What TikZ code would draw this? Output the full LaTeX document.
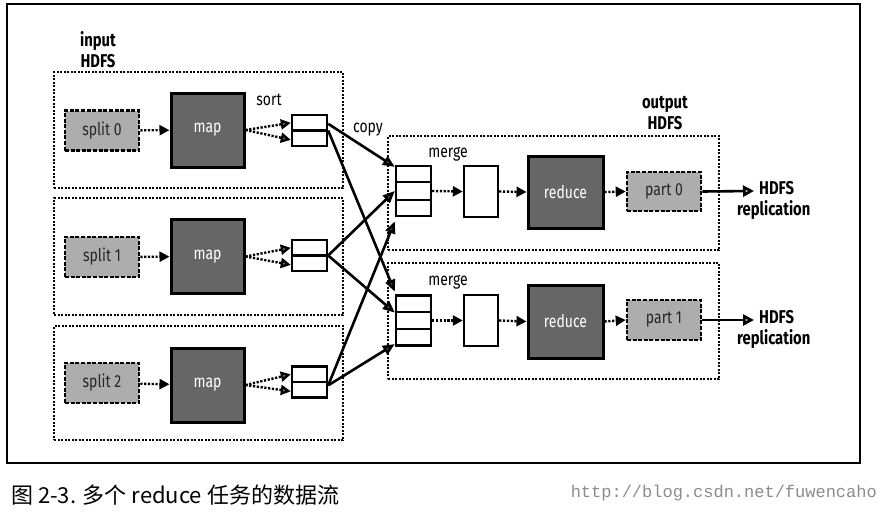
\documentclass[tikz,border=0pt]{standalone}
\usepackage{fontspec}
\setmainfont{Fira Sans}[FakeStretch=0.8]
\newfontfamily\cjk{Noto Sans CJK SC}
\newfontfamily\wmfont{Liberation Mono}
\usetikzlibrary{arrows.meta,calc}
\tikzset{
  grp/.style={draw, line width=1.4pt, dash pattern=on 2pt off 1.5pt, inner sep=0pt},
  splitbox/.style={draw, fill=black!32, line width=2.6pt, dash pattern=on 4pt off 1.6pt,
     minimum width=74pt, minimum height=40pt, inner sep=0pt, font=\fontsize{17.5}{18}\selectfont, text=black!85},
  mapbox/.style={draw, fill=black!60, line width=3pt, minimum width=73pt, minimum height=74pt,
     inner sep=0pt, font=\fontsize{17.5}{18}\selectfont, text=white},
  sortbox/.style={draw, fill=white, line width=2.4pt, minimum width=35pt, minimum height=31pt, inner sep=0pt},
  mergebox/.style={draw, fill=white, line width=2.4pt, minimum width=35pt, minimum height=50pt, inner sep=0pt},
  lbl/.style={font=\fontsize{17.5}{18}\selectfont, inner sep=0pt},
  blbl/.style={font=\bfseries\fontsize{18.5}{21}\selectfont, inner sep=0pt, align=center},
  dotarrow/.style={line width=2.4pt, dash pattern=on 2.2pt off 1.6pt,
     -{Triangle[length=10pt,width=10pt,fill=black]}},
  sortarrow/.style={line width=2.4pt, dash pattern=on 2.2pt off 1.6pt,
     -{Triangle[length=10pt,width=10pt,fill=black!45]}},
  copyarrow/.style={line width=2.6pt, -{Triangle[length=12pt,width=10pt,fill=black!70]}},
  reparrow/.style={line width=2.6pt, -{Triangle[length=11pt,width=11pt,fill=black!25]}},
}
\begin{document}
\begin{tikzpicture}[x=1pt,y=-1pt]
\useasboundingbox (0,0) rectangle (883,514);
% outer frame
\draw[line width=1.2pt] (7,4) rectangle (860,463);

% input side containers
\node[grp, minimum width=289pt, minimum height=116pt] (g0) at (198.5,130) {};
\node[grp, minimum width=289pt, minimum height=117pt] (g1) at (198.5,256.5) {};
\node[grp, minimum width=289pt, minimum height=114pt] (g2) at (198.5,383) {};
\node[blbl] (inl) at (98,50) {input\\HDFS};

% output containers
\node[grp, minimum width=331pt, minimum height=114pt] (r0) at (553.5,193) {};
\node[grp, minimum width=331pt, minimum height=116pt] (r1) at (553.5,321) {};
\node[blbl] (outl) at (665,113) {output\\HDFS};

% splits
\node[splitbox] (sp0) at (102,130.5) {split 0};
\node[splitbox] (sp1) at (102,257) {split 1};
\node[splitbox] (sp2) at (102,383) {split 2};
% maps
\node[mapbox] (m0) at (207.5,130) {map};
\node[mapbox] (m1) at (207.5,256.5) {map};
\node[mapbox] (m2) at (207.5,385) {map};
% sort boxes
\node[sortbox] (s0) at (309.5,130.5) {};
\node[sortbox] (s1) at (309.5,255.5) {};
\node[sortbox] (s2) at (309.5,382) {};
\foreach \s in {s0,s1,s2} \draw[line width=2.4pt] (\s.west) -- (\s.east);
\node[lbl] (sortl) at (269,100) {sort};
\node[lbl] (copyl) at (368,130) {copy};

% split -> map
\foreach \i in {0,1,2} \draw[dotarrow] (sp\i) -- (m\i);
% map -> sort
\foreach \i in {0,1,2} {
  \draw[sortarrow] (m\i.east) -- ($(s\i.north west)!0.27!(s\i.south west)$);
  \draw[sortarrow] (m\i.east) -- ($(s\i.north west)!0.78!(s\i.south west)$);
}

% merge boxes
\node[mergebox] (mg0) at (413.5,191) {};
\node[mergebox] (mg1) at (413.5,320.5) {};
\foreach \m in {mg0,mg1} {
  \draw[line width=2.4pt] ($(\m.north west)!0.333!(\m.south west)$) -- ($(\m.north east)!0.333!(\m.south east)$);
  \draw[line width=2.4pt] ($(\m.north west)!0.667!(\m.south west)$) -- ($(\m.north east)!0.667!(\m.south east)$);
}
\node[lbl] (mgl0) at (448,154) {merge};
\node[lbl] (mgl1) at (448,282) {merge};
% intermediate
\node[mergebox, minimum width=34pt, minimum height=51pt] (it0) at (481,191.5) {};
\node[mergebox, minimum width=34pt, minimum height=51pt] (it1) at (481,320.5) {};
% reduce
\node[mapbox, minimum width=75pt, minimum height=72pt] (rd0) at (565.5,192) {reduce};
\node[mapbox, minimum width=75pt, minimum height=73pt] (rd1) at (565.5,321.5) {reduce};
% parts
\node[splitbox, minimum height=39pt] (p0) at (664,191.5) {part 0};
\node[splitbox, minimum height=40pt] (p1) at (664,320) {part 1};

% chain arrows
\foreach \i in {0,1} {
  \draw[dotarrow] (mg\i.east) -- (it\i.west);
  \draw[dotarrow] (it\i.east) -- (rd\i.west);
  \draw[dotarrow] (rd\i.east) -- (p\i.west);
}

% copy arrows
\draw[copyarrow] ($(s0.north east)!0.3!(s0.south east)$) -- ($(mg0.north west)!0.04!(mg0.south west)$);
\draw[copyarrow] ($(s0.north east)!0.5!(s0.south east)$) -- ($(mg1.north west)!-0.05!(mg1.south west)$);
\draw[copyarrow] (s1.east) -- ($(mg0.north west)!0.5!(mg0.south west)$);
\draw[copyarrow] (s1.east) -- ($(mg1.north west)!0.35!(mg1.south west)$);
\draw[copyarrow] ($(s2.north east)!0.6!(s2.south east)$) -- ($(mg0.north west)!1.08!(mg0.south west)$);
\draw[copyarrow] ($(s2.north east)!0.6!(s2.south east)$) -- ($(mg1.north west)!0.95!(mg1.south west)$);

% HDFS replication
\coordinate (h0) at (754,191);
\coordinate (h1) at (754,320);
\draw[reparrow] (p0.east) -- (h0);
\draw[reparrow] (p1.east) -- (h1);
\node[blbl, anchor=north west, align=left] (hr0) at (737,181) {\hspace*{22pt}HDFS\\replication};
\node[blbl, anchor=north west, align=left] (hr1) at (737,310) {\hspace*{22pt}HDFS\\replication};

% caption and watermark
\node[anchor=west, inner sep=0pt, font=\fontsize{22}{24}\selectfont] (cap) at (11,495) {\cjk 图 2-3. 多个 reduce 任务的数据流};
\node[anchor=east, inner sep=0pt, text=black!45, font=\wmfont\fontsize{17}{18}\selectfont] (wm) at (877,493) {http://blog.csdn.net/fuwencaho};
\end{tikzpicture}
\end{document}
